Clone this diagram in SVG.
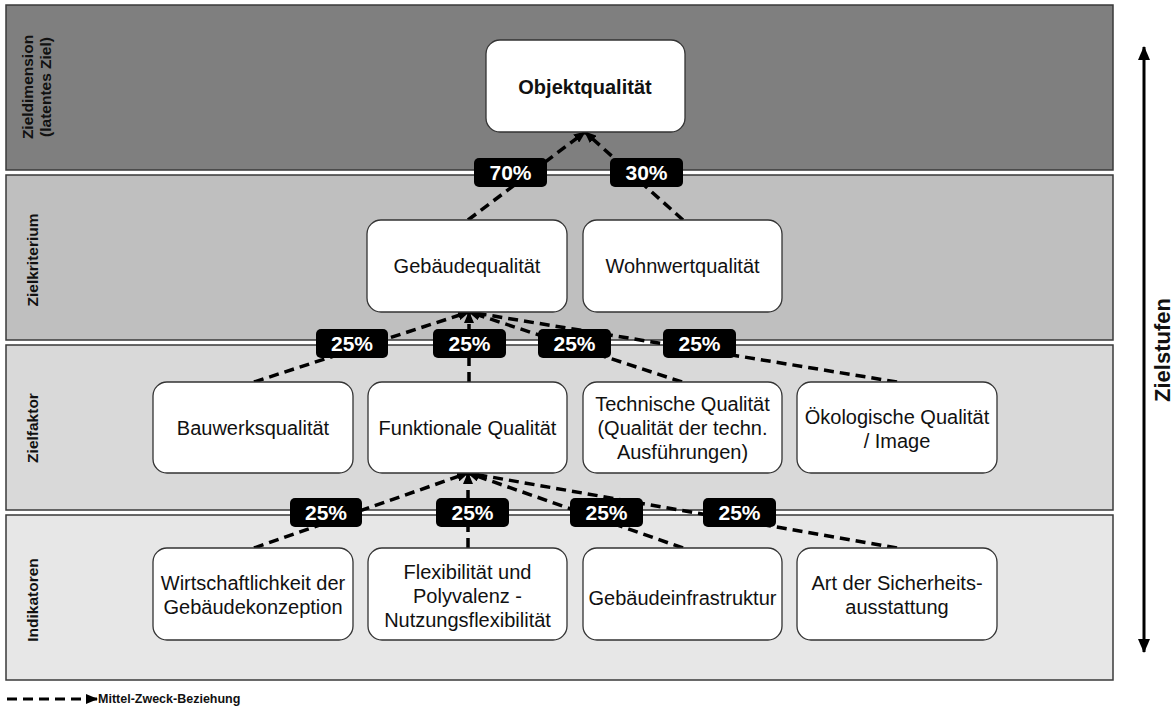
<svg xmlns="http://www.w3.org/2000/svg" width="1176" height="720" viewBox="0 0 1176 720">
  <style>
    .band { stroke: #3a3a3a; stroke-width: 1.5; }
    .band-label { font-family: "Liberation Sans", Arial, sans-serif; font-size: 15.5px; font-weight: bold; fill: #111; text-anchor: middle; }
    .node rect { fill: #ffffff; stroke: #333333; stroke-width: 1.3; }
    .node text { font-family: "Liberation Sans", Arial, sans-serif; font-size: 20px; fill: #111; text-anchor: middle; }
    .node text.title { font-weight: bold; }
    .conn { fill: none; stroke: #000; stroke-width: 3.5; stroke-dasharray: 10 6; marker-end: url(#head); }
    .badge rect { fill: #000; }
    .badge text { font-family: "Liberation Sans", Arial, sans-serif; font-size: 21px; font-weight: bold; fill: #fff; text-anchor: middle; }
    .axis { stroke: #000; stroke-width: 3; marker-start: url(#axisHead); marker-end: url(#axisHead); }
  </style>
  <defs>
    <marker id="head" markerUnits="userSpaceOnUse" markerWidth="12" markerHeight="10" refX="11" refY="5" orient="auto">
      <path d="M0,0 L12,5 L0,10 Z" fill="#000"/>
    </marker>
    <marker id="axisHead" markerUnits="userSpaceOnUse" markerWidth="14" markerHeight="12" refX="13" refY="6" orient="auto-start-reverse">
      <path d="M0,0 L14,6 L0,12 Z" fill="#000"/>
    </marker>
  </defs>

  <rect width="1176" height="720" fill="#ffffff"/>

  <!-- levels -->
  <g id="bands">
    <rect class="band" x="6" y="5" width="1107" height="165" fill="#7f7f7f"/>
    <rect class="band" x="6" y="175" width="1107" height="165" fill="#bfbfbf"/>
    <rect class="band" x="6" y="345" width="1107" height="165" fill="#d9d9d9"/>
    <rect class="band" x="6" y="515" width="1107" height="165" fill="#e7e7e7"/>
    <text class="band-label" transform="translate(33,87) rotate(-90)">Zieldimension</text>
    <text class="band-label" transform="translate(51,87) rotate(-90)">(latentes Ziel)</text>
    <text class="band-label" transform="translate(38,260) rotate(-90)">Zielkriterium</text>
    <text class="band-label" transform="translate(38,428) rotate(-90)">Zielfaktor</text>
    <text class="band-label" transform="translate(38,600) rotate(-90)">Indikatoren</text>
  </g>

  <!-- means-end relations -->
  <g id="connectors">
    <line class="conn" x1="468" y1="220" x2="585" y2="132"/>
    <line class="conn" x1="683" y1="220" x2="585" y2="132"/>

    <line class="conn" x1="254" y1="382" x2="469" y2="312"/>
    <line class="conn" x1="469" y1="382" x2="469" y2="312"/>
    <line class="conn" x1="682" y1="382" x2="469" y2="312"/>
    <line class="conn" x1="897" y1="382" x2="469" y2="312"/>

    <line class="conn" x1="254" y1="548" x2="468" y2="473"/>
    <line class="conn" x1="468" y1="548" x2="468" y2="473"/>
    <line class="conn" x1="683" y1="548" x2="468" y2="473"/>
    <line class="conn" x1="897" y1="548" x2="468" y2="473"/>
  </g>

  <!-- weights -->
  <g id="weights">
    <g class="badge"><rect x="474" y="158" width="73" height="29" rx="5"/><text x="510.5" y="180">70%</text></g>
    <g class="badge"><rect x="610" y="158" width="73" height="29" rx="5"/><text x="646.5" y="180">30%</text></g>

    <g class="badge"><rect x="316" y="329" width="72" height="29" rx="5"/><text x="352" y="351">25%</text></g>
    <g class="badge"><rect x="433" y="329" width="73" height="29" rx="5"/><text x="469.5" y="351">25%</text></g>
    <g class="badge"><rect x="538" y="329" width="73" height="29" rx="5"/><text x="574.5" y="351">25%</text></g>
    <g class="badge"><rect x="663" y="329" width="73" height="29" rx="5"/><text x="699.5" y="351">25%</text></g>

    <g class="badge"><rect x="290" y="498" width="72" height="29" rx="5"/><text x="326" y="520">25%</text></g>
    <g class="badge"><rect x="436" y="498" width="73" height="29" rx="5"/><text x="472.5" y="520">25%</text></g>
    <g class="badge"><rect x="570" y="498" width="73" height="29" rx="5"/><text x="606.5" y="520">25%</text></g>
    <g class="badge"><rect x="703" y="498" width="73" height="29" rx="5"/><text x="739.5" y="520">25%</text></g>
  </g>

  <!-- goal dimension -->
  <g id="objektqualitaet" class="node"><rect x="486" y="40" width="199" height="92" rx="14"/><text class="title" x="585" y="94">Objektqualität</text></g>

  <!-- goal criteria -->
  <g id="gebaeudequalitaet" class="node"><rect x="367" y="220" width="200" height="92" rx="14"/><text x="467" y="273">Gebäudequalität</text></g>
  <g id="wohnwertqualitaet" class="node"><rect x="583" y="220" width="199" height="92" rx="14"/><text x="682.5" y="273">Wohnwertqualität</text></g>

  <!-- goal factors -->
  <g id="bauwerksqualitaet" class="node"><rect x="153" y="382" width="200" height="91" rx="14"/><text x="253" y="435">Bauwerksqualität</text></g>
  <g id="funktionale-qualitaet" class="node"><rect x="368" y="382" width="199" height="91" rx="14"/><text x="467.5" y="435">Funktionale Qualität</text></g>
  <g id="technische-qualitaet" class="node"><rect x="583" y="382" width="199" height="91" rx="14"/>
    <text x="682.5" y="411">Technische Qualität</text>
    <text x="682.5" y="435">(Qualität der techn.</text>
    <text x="682.5" y="459">Ausführungen)</text>
  </g>
  <g id="oekologische-qualitaet" class="node"><rect x="797" y="382" width="200" height="91" rx="14"/>
    <text x="897" y="424">Ökologische Qualität</text>
    <text x="897" y="448">/ Image</text>
  </g>

  <!-- indicators -->
  <g id="wirtschaftlichkeit" class="node"><rect x="153" y="548" width="200" height="92" rx="14"/>
    <text x="253" y="590">Wirtschaftlichkeit der</text>
    <text x="253" y="614">Gebäudekonzeption</text>
  </g>
  <g id="flexibilitaet" class="node"><rect x="368" y="548" width="199" height="92" rx="14"/>
    <text x="467.5" y="579">Flexibilität und</text>
    <text x="467.5" y="603">Polyvalenz -</text>
    <text x="467.5" y="627">Nutzungsflexibilität</text>
  </g>
  <g id="gebaeudeinfrastruktur" class="node"><rect x="583" y="548" width="199" height="92" rx="14"/>
    <text x="682.5" y="605">Gebäudeinfrastruktur</text>
  </g>
  <g id="sicherheitsausstattung" class="node"><rect x="797" y="548" width="200" height="92" rx="14"/>
    <text x="897" y="590">Art der Sicherheits-</text>
    <text x="897" y="614">ausstattung</text>
  </g>

  <!-- level axis -->
  <g id="zielstufen">
    <line class="axis" x1="1144" y1="47" x2="1144" y2="652"/>
    <text class="band-label" style="font-size:22px" transform="translate(1170,350) rotate(-90)">Zielstufen</text>
  </g>

  <!-- legend -->
  <g id="legend">
    <line class="conn" x1="7" y1="699" x2="97" y2="699" style="stroke-width:3"/>
    <text x="98" y="703" style="font-family:'Liberation Sans', Arial, sans-serif; font-size:12.5px; font-weight:bold; fill:#111">Mittel-Zweck-Beziehung</text>
  </g>
</svg>
